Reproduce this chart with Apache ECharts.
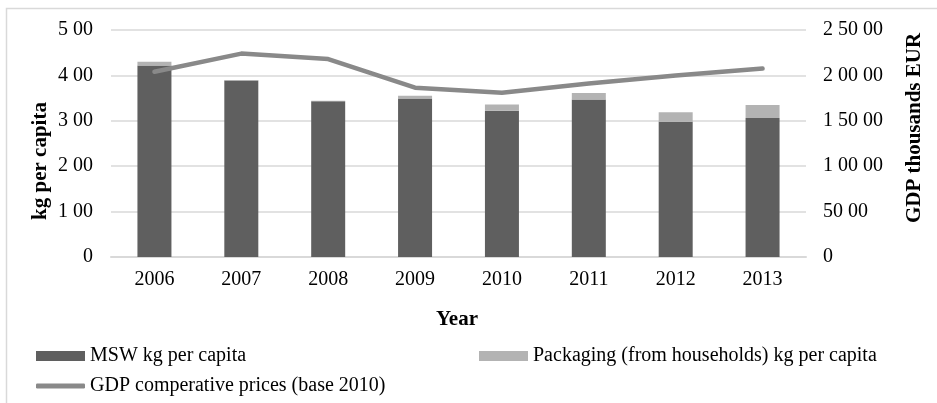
<!DOCTYPE html>
<html>
<head>
<meta charset="utf-8">
<script src="https://cdn.jsdelivr.net/npm/echarts@6/dist/echarts.min.js"></script>
<style>
  html, body { margin: 0; padding: 0; background: #fff; }
  #chart { width: 937px; height: 403px; }
</style>
</head>
<body>
<div id="chart"></div>
<script>
// data
const years = ['2006', '2007', '2008', '2009', '2010', '2011', '2012', '2013']
const msw = [422, 389, 343, 349, 322, 347, 298, 306]
const packaging = [8, 1, 1, 6, 14, 14, 21, 29]
const gdp = [20400, 22400, 21800, 18650, 18100, 19100, 20000, 20750]

const font = 'Liberation Serif'
const gridColor = '#d9d9d9'

// "2 50 00" style: digits grouped in pairs from the right
function pairs(v) {
  let s = String(Math.round(v))
  const out = []
  while (s.length > 2) {
    out.unshift(s.slice(-2))
    s = s.slice(0, -2)
  }
  out.unshift(s)
  return out.join(' ')
}

const chart = echarts.init(document.getElementById('chart'))

const legendText = { fontFamily: font, fontSize: 20, color: '#000' }

chart.setOption({
  animation: false,
  textStyle: { fontFamily: font },
  grid: { left: 111, right: 131, top: 30, bottom: 146 },
  graphic: [
    {
      type: 'rect',
      shape: { x: 6.5, y: 8.5, width: 960, height: 420 },
      style: { fill: 'none', stroke: gridColor, lineWidth: 1.5 },
      silent: true
    },
    {
      type: 'text',
      x: 41, y: 161, rotation: Math.PI / 2,
      style: { text: 'kg per capita', font: 'bold 21px "Liberation Serif"', fill: '#000', align: 'center', verticalAlign: 'middle' }
    },
    {
      type: 'text',
      x: 915, y: 128, rotation: Math.PI / 2,
      style: { text: 'GDP thousands EUR', font: 'bold 21px "Liberation Serif"', fill: '#000', align: 'center', verticalAlign: 'middle' }
    },
    {
      type: 'text',
      x: 457, y: 320,
      style: { text: 'Year', font: 'bold 21px "Liberation Serif"', fill: '#000', align: 'center', verticalAlign: 'middle' }
    }
  ],
  legend: [
    {
      left: 36, top: 346, padding: 0,
      itemWidth: 49, itemHeight: 10, itemGap: 0,
      icon: 'rect',
      textStyle: legendText,
      data: ['MSW kg per capita']
    },
    {
      left: 479, top: 346, padding: 0,
      itemWidth: 49, itemHeight: 10, itemGap: 0,
      icon: 'rect',
      textStyle: legendText,
      data: ['Packaging (from households) kg per capita']
    },
    {
      left: 36, top: 376, padding: 0,
      itemWidth: 49, itemHeight: 5, itemGap: 0,
      icon: 'roundRect',
      textStyle: legendText,
      data: ['GDP comperative prices (base 2010)']
    }
  ],
  xAxis: {
    type: 'category',
    data: years,
    axisLine: { lineStyle: { color: gridColor, width: 2 } },
    axisTick: { show: false },
    axisLabel: { color: '#000', fontSize: 20, fontFamily: font, margin: 13 }
  },
  yAxis: [
    {
      type: 'value',
      min: 0, max: 500, interval: 100,
      axisLine: { show: false },
      axisTick: { show: false },
      axisLabel: { color: '#000', fontSize: 20, fontFamily: font, margin: 18, formatter: pairs },
      splitLine: { lineStyle: { color: gridColor, width: 1.5 } }
    },
    {
      type: 'value',
      min: 0, max: 25000, interval: 5000,
      axisLine: { show: false },
      axisTick: { show: false },
      axisLabel: { color: '#000', fontSize: 20, fontFamily: font, margin: 17, formatter: pairs },
      splitLine: { show: false }
    }
  ],
  series: [
    {
      name: 'MSW kg per capita',
      type: 'bar',
      stack: 'waste',
      data: msw,
      barWidth: 34,
      itemStyle: { color: '#5f5f5f' }
    },
    {
      name: 'Packaging (from households) kg per capita',
      type: 'bar',
      stack: 'waste',
      data: packaging,
      barWidth: 34,
      itemStyle: { color: '#b3b3b3' }
    },
    {
      name: 'GDP comperative prices (base 2010)',
      type: 'line',
      yAxisIndex: 1,
      data: gdp,
      showSymbol: false,
      symbol: 'none',
      lineStyle: { color: '#898989', width: 4.5, cap: 'round', join: 'round' },
      itemStyle: { color: '#898989' }
    }
  ]
})
</script>
</body>
</html>
